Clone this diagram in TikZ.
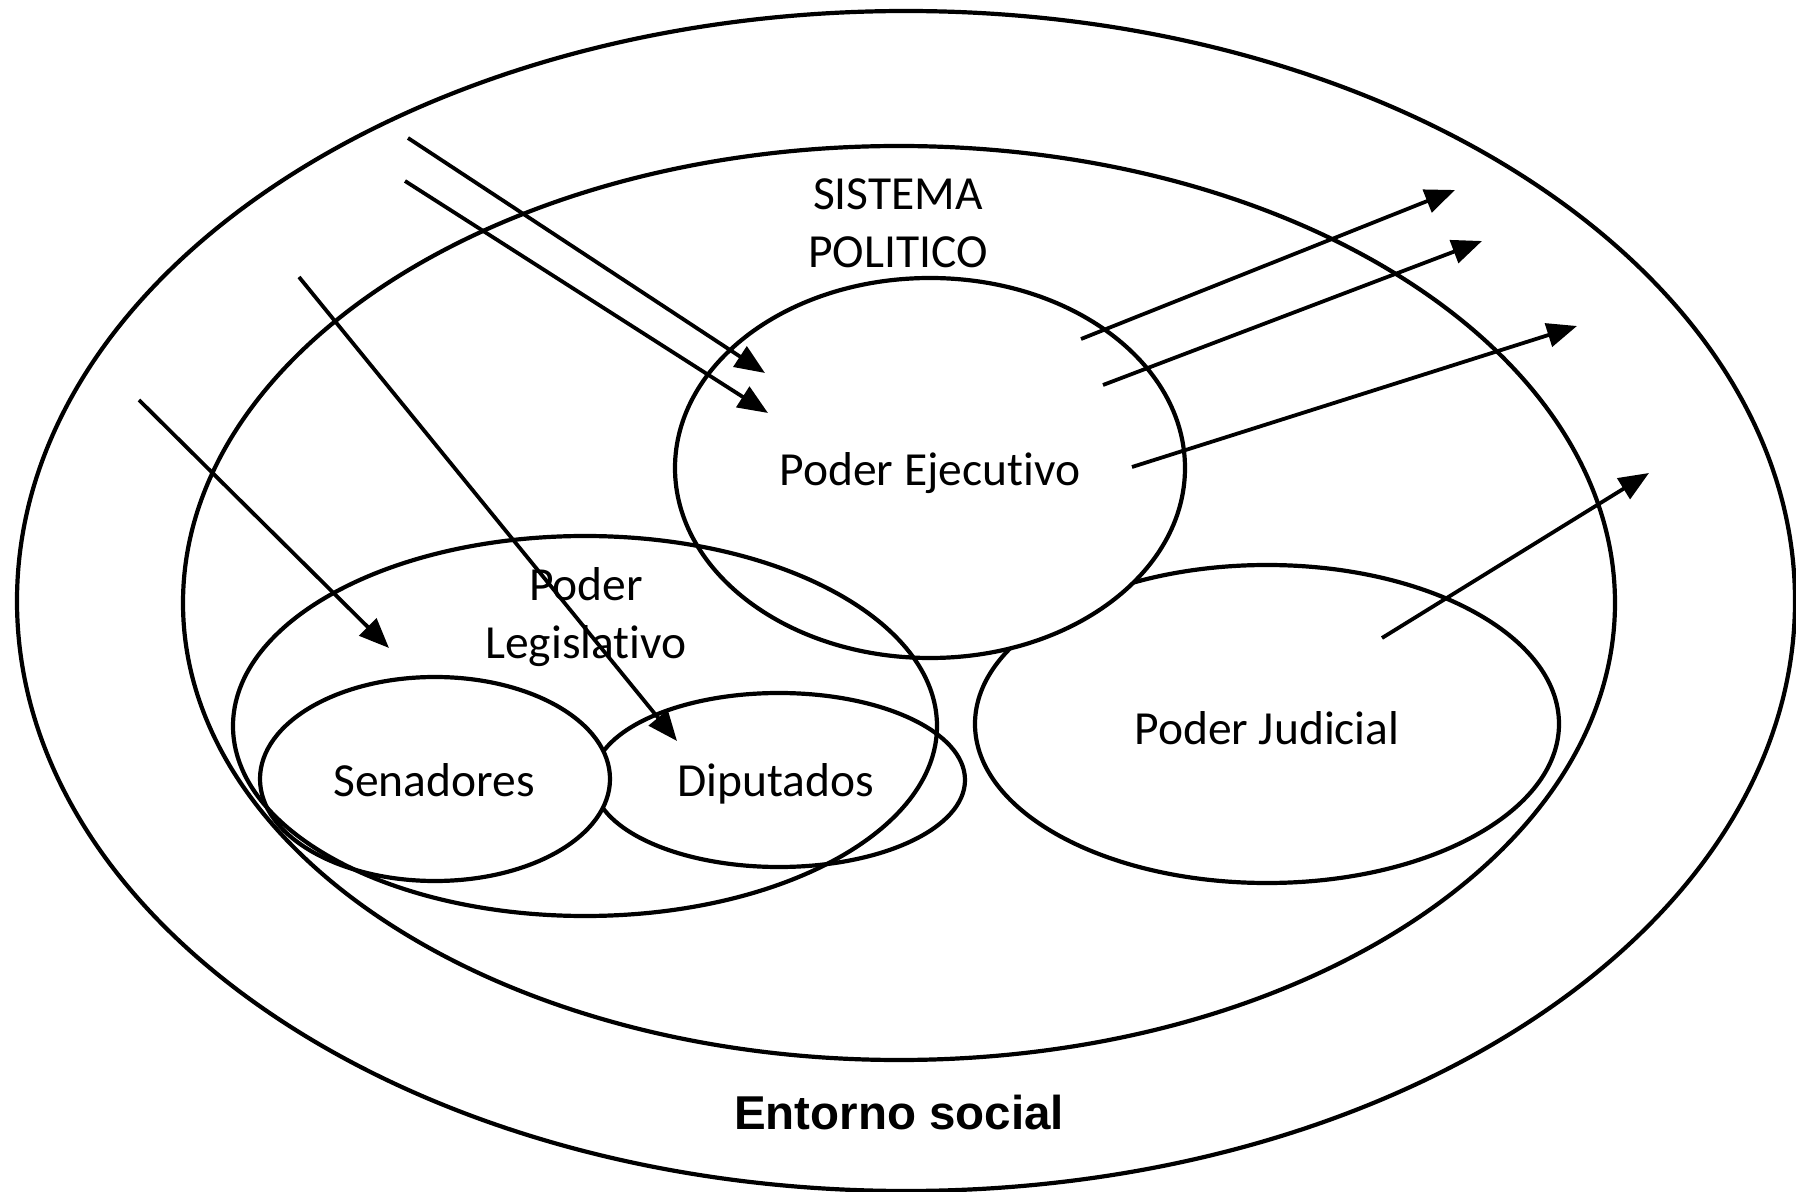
\documentclass[tikz,border=0pt]{standalone}
\usepackage{fontspec}
\setmainfont{Carlito}[Ligatures={NoCommon,NoContextual},Contextuals=NoAlternate]
\newfontfamily\entfont{Liberation Sans}
\usetikzlibrary{shapes.geometric,arrows.meta}
\begin{document}
\begin{tikzpicture}[x=0.5pt,y=-0.5pt,
  oval/.style={ellipse,draw,line width=2.1pt,inner sep=0pt},
  whiteoval/.style={oval,fill=white},
  flow/.style={line width=1.9pt,-{Triangle[length=15pt,width=12pt]}},
  lbl/.style={font=\fontsize{23.75}{29}\selectfont,align=center,inner sep=0pt}]
\useasboundingbox (0,0) rectangle (1796,1192);
\fill[white] (0,0) rectangle (1796,1192);
% ellipses
\node[oval,minimum width=889pt,minimum height=590pt] (entorno) at (906,601) {};
\node[oval,minimum width=716pt,minimum height=457pt] (sistema) at (899,603) {};
\node[whiteoval,minimum width=292pt,minimum height=159pt] (judicial) at (1267,724) {};
\node[whiteoval,minimum width=255pt,minimum height=190pt] (ejecutivo) at (930,468) {};
\node[whiteoval,minimum width=186pt,minimum height=87pt] (diputados) at (779,780) {};
\node[whiteoval,minimum width=175pt,minimum height=102pt] (senadores) at (435,779) {};
\node[oval,minimum width=352pt,minimum height=190pt] (legislativo) at (585,726) {};
% labels
\node[lbl] (tsis) at (898,223) {SISTEMA\\POLITICO};
\node[lbl] (teje) at (930,473) {Poder Ejecutivo};
\node[lbl] (tleg) at (586,617) {Poder\\Legislativo};
\node[lbl] (tsen) at (434,780) {Senadores};
\node[lbl] (tdip) at (776,784) {Diputados};
\node[lbl] (tjud) at (1267,728) {Poder Judicial};
\node[inner sep=0pt,font=\entfont\bfseries\fontsize{23.75}{29}\selectfont] (tent) at (899,1113) {Entorno social};
% arrow end points
\coordinate (a1s) at (408,138); \coordinate (a1e) at (765,373);
\coordinate (a2s) at (405,181); \coordinate (a2e) at (768,413);
\coordinate (a3s) at (299,277); \coordinate (a3e) at (677,741);
\coordinate (a4s) at (139,400); \coordinate (a4e) at (389,648);
\coordinate (b1s) at (1081,339); \coordinate (b1e) at (1455,190);
\coordinate (b2s) at (1103,385); \coordinate (b2e) at (1482,241);
\coordinate (b3s) at (1132,467); \coordinate (b3e) at (1577,326);
\coordinate (b4s) at (1382,638); \coordinate (b4e) at (1649,473);
\draw[flow] (a1s) -- (a1e);
\draw[flow] (a2s) -- (a2e);
\draw[flow] (a3s) -- (a3e);
\draw[flow] (a4s) -- (a4e);
\draw[flow] (b1s) -- (b1e);
\draw[flow] (b2s) -- (b2e);
\draw[flow] (b3s) -- (b3e);
\draw[flow] (b4s) -- (b4e);
\end{tikzpicture}
\end{document}
